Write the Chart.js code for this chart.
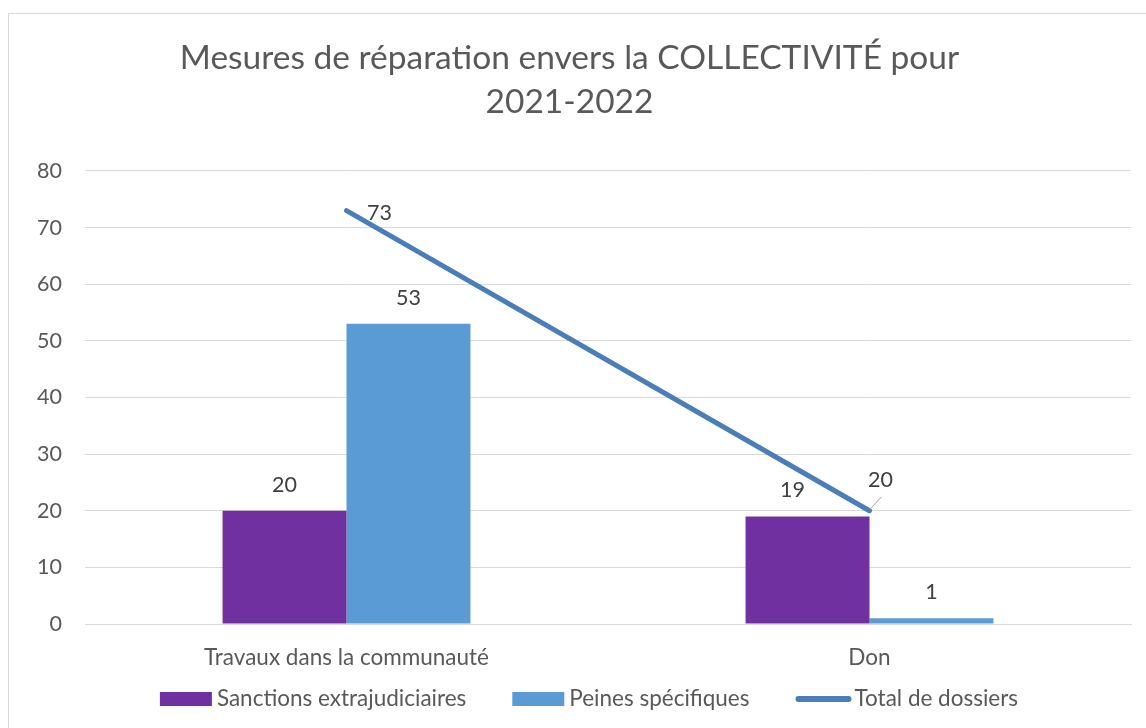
<!DOCTYPE html>
<html>
<head>
<meta charset="utf-8">
<script src="https://cdn.jsdelivr.net/npm/chart.js@4.4.0/dist/chart.umd.min.js"></script>
<style>
  html, body { margin: 0; padding: 0; background: #fff; overflow: hidden; }
  #frame { position: absolute; left: 8px; top: 13px; width: 1200px; height: 800px; border: 1px solid #d9d9d9; box-sizing: border-box; }
  #wrap { position: absolute; left: 0; top: 0; width: 1146px; height: 728px; }
</style>
</head>
<body>
<div id="frame"></div>
<div id="wrap"><canvas id="c" width="1146" height="728"></canvas></div>
<script>
const titleLines = ["Mesures de réparation envers la COLLECTIVITÉ pour", "2021-2022"];
const categories = ["Travaux dans la communauté", "Don"];
const seriesNames = ["Sanctions extrajudiciaires", "Peines spécifiques", "Total de dossiers"];
const sanctionsValues = [20, 19];
const peinesValues = [53, 1];
const totalValues = [73, 20];
const yTicks = [0, 10, 20, 30, 40, 50, 60, 70, 80];

const FONT = "Lato, 'Open Sans', sans-serif";
const TXT = "#595959";
const FS_TEXT = 22.5;
const FS_NUM = 21.5;

const labelPlugin = {
  id: "valueLabels",
  afterDatasetsDraw(chart) {
    const ctx = chart.ctx;
    ctx.save();
    ctx.font = FS_NUM + "px " + FONT;
    ctx.fillStyle = "#404040";
    ctx.textAlign = "center";
    ctx.textBaseline = "middle";
    chart.data.datasets.forEach((ds, di) => {
      const meta = chart.getDatasetMeta(di);
      meta.data.forEach((el, i) => {
        const v = ds.data[i];
        if (ds.type === "line") {
          if (i === 0) {
            ctx.fillText(String(v), el.x + 33, el.y + 2);
          } else {
            ctx.strokeStyle = "#a6a6a6";
            ctx.lineWidth = 1;
            ctx.beginPath();
            ctx.moveTo(el.x + 1, el.y - 2);
            ctx.lineTo(el.x + 12, el.y - 14);
            ctx.stroke();
            ctx.fillText(String(v), el.x + 11, el.y - 31);
          }
        } else {
          // the "Don" label of the first series is nudged left in the original to clear the line
          const dx = (di === 0 && i === 1) ? -15 : 0;
          ctx.fillText(String(v), el.x + dx, el.y - 26);
        }
      });
    });
    ctx.restore();
  }
};

const legendPlugin = {
  id: "customLegend",
  afterDraw(chart) {
    const ctx = chart.ctx;
    ctx.save();
    ctx.font = FS_TEXT + "px " + FONT;
    ctx.textBaseline = "middle";
    ctx.textAlign = "left";
    const boxW = 52, lineW = 56, gapText = 5, lineGapText = 3, gapItem = 46, y = 699;
    const items = chart.data.datasets.map(ds => ({ text: ds.label, type: ds.type, color: ds.type === "line" ? ds.borderColor : ds.backgroundColor }));
    const widths = items.map(it => (it.type === "line" ? lineW + lineGapText : boxW + gapText) + ctx.measureText(it.text).width);
    const total = widths.reduce((a, b) => a + b, 0) + gapItem * (items.length - 1);
    let x = 589 - total / 2;
    items.forEach((it, i) => {
      if (it.type === "line") {
        ctx.strokeStyle = it.color;
        ctx.lineWidth = 6;
        ctx.lineCap = "round";
        ctx.beginPath();
        ctx.moveTo(x + 3, y);
        ctx.lineTo(x + lineW - 3, y);
        ctx.stroke();
        ctx.fillStyle = TXT;
        ctx.fillText(it.text, x + lineW + lineGapText, y);
      } else {
        ctx.fillStyle = it.color;
        ctx.fillRect(x, y - 7, boxW, 14);
        ctx.fillStyle = TXT;
        ctx.fillText(it.text, x + boxW + gapText, y);
      }
      x += widths[i] + gapItem;
    });
    ctx.restore();
  }
};

new Chart(document.getElementById("c"), {
  data: {
    labels: categories,
    datasets: [
      { type: "bar", label: seriesNames[0], data: sanctionsValues, backgroundColor: "#7030A0", order: 1, categoryPercentage: 0.474, barPercentage: 1.0 },
      { type: "bar", label: seriesNames[1], data: peinesValues, backgroundColor: "#5B9BD5", order: 1, categoryPercentage: 0.474, barPercentage: 1.0 },
      { type: "line", label: seriesNames[2], data: totalValues, borderColor: "#4A7EBB", borderWidth: 5, borderCapStyle: "round", pointRadius: 0, order: 0, tension: 0 }
    ]
  },
  options: {
    responsive: false,
    animation: false,
    events: [],
    layout: { padding: { left: 8, right: 15, top: 0, bottom: 37 } },
    plugins: {
      legend: { display: false },
      tooltip: { enabled: false },
      title: {
        display: true,
        text: titleLines,
        color: TXT,
        font: { family: FONT, size: 33.5, weight: "normal", lineHeight: 1.313 },
        padding: { top: 36, bottom: 47 }
      }
    },
    scales: {
      x: {
        grid: { display: false, drawTicks: false },
        border: { display: true, color: "#d9d9d9", width: 1 },
        ticks: { color: TXT, font: { family: FONT, size: FS_TEXT }, padding: 20 }
      },
      y: {
        min: 0, max: 80,
        afterFit(scale) { scale.width = 77; },
        afterBuildTicks(scale) { scale.ticks = yTicks.map(v => ({ value: v })); },
        grid: { color: "#d9d9d9", lineWidth: 1, drawTicks: false },
        border: { display: false },
        ticks: { color: TXT, font: { family: FONT, size: FS_NUM }, padding: 23 }
      }
    }
  },
  plugins: [labelPlugin, legendPlugin]
});
</script>
</body>
</html>
